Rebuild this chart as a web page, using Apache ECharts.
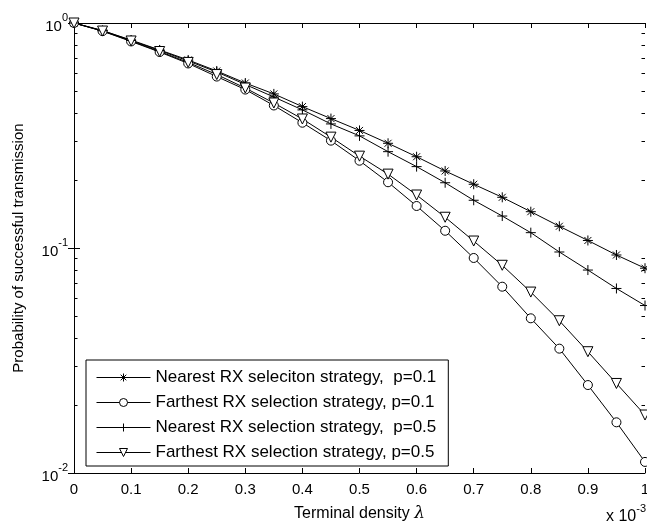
<!DOCTYPE html>
<html>
<head>
<meta charset="utf-8">
<script src="https://cdn.jsdelivr.net/npm/echarts@6/dist/echarts.min.js"></script>
<style>
html,body{margin:0;padding:0;background:#fff;overflow:hidden;}
#c{width:647px;height:530px;}
</style>
</head>
<body>
<div id="c"></div>
<script>
// Terminal density (x 10^-3)
const lambda = [0,0.05,0.1,0.15,0.2,0.25,0.3,0.35,0.4,0.45,0.5,0.55,0.6,0.65,0.7,0.75,0.8,0.85,0.9,0.95,1];
const nearestP01  = [1,0.926,0.840,0.759,0.685,0.612,0.541,0.484,0.425,0.376,0.333,0.292,0.2545,0.220,0.192,0.168,0.145,0.1249,0.108,0.0931,0.0813];
const farthestP01 = [1,0.920,0.828,0.743,0.661,0.578,0.506,0.430,0.3604,0.300,0.2443,0.196,0.1537,0.1193,0.0903,0.0673,0.0487,0.0357,0.0246,0.0168,0.0112];
const nearestP05  = [1,0.924,0.836,0.755,0.678,0.606,0.533,0.469,0.411,0.356,0.315,0.268,0.230,0.195,0.163,0.1387,0.117,0.0960,0.0798,0.0661,0.0555];
const farthestP05 = [1,0.921,0.832,0.747,0.668,0.590,0.514,0.441,0.3745,0.311,0.256,0.213,0.172,0.137,0.1074,0.0838,0.0637,0.0475,0.0346,0.0250,0.0181];
const seriesNames = [
  'Nearest RX seleciton strategy,  p=0.1',
  'Farthest RX selection strategy, p=0.1',
  'Nearest RX selection strategy,  p=0.5',
  'Farthest RX selection strategy, p=0.5'
];
const minorTickValues = [0.02,0.03,0.04,0.05,0.06,0.07,0.08,0.09,0.2,0.3,0.4,0.5,0.6,0.7,0.8,0.9];

const FONT = "'Liberation Sans', Arial, sans-serif";
const starPath = 'path://M0,5L10,5M5,0L5,10M1.5,1.5L8.5,8.5M1.5,8.5L8.5,1.5';
const plusPath = 'path://M0,5L10,5M5,0L5,10';
const triPath = 'path://M0,0L10,0L5,8.66Z';

function pairs(ys){ return lambda.map((x,i)=>[x, ys[i]]); }
function mkSeries(name, ys, symbol, size){
  return {
    name: name, type: 'line', data: pairs(ys),
    symbol: symbol, symbolSize: size, showSymbol: true,
    lineStyle: {color:'#000', width:1},
    itemStyle: {color:'#fff', borderColor:'#000', borderWidth:1},
    emphasis: {disabled:true}, animation:false, z: 3
  };
}

const chart = echarts.init(document.getElementById('c'), null, {renderer:'canvas'});
const yLabelFmt = function(v){ const e = Math.round(Math.log10(v)); return '{b|10}{s|' + e + '}'; };

chart.setOption({
  animation: false,
  backgroundColor: '#fff',
  grid: {left:74, right:2, top:23, bottom:57, containLabel:false, outerBoundsMode:'none'},
  xAxis: [{
    type:'value', min:0, max:1, interval:0.1, position:'bottom',
    axisLine:{show:true, lineStyle:{color:'#000', width:1}},
    axisTick:{show:true, inside:true, length:5, lineStyle:{color:'#000'}},
    splitLine:{show:false},
    axisLabel:{color:'#000', fontSize:15, fontFamily:FONT, margin:9, hideOverlap:false,
      formatter:function(v){ return String(+v.toFixed(1)); }},
    name:'{t|Terminal density }{l|λ}', nameLocation:'middle', nameGap:32,
    nameTextStyle:{rich:{t:{fontSize:16, fontFamily:FONT, color:'#000'}, l:{fontSize:17, fontFamily:"'DejaVu Serif', serif", fontStyle:'italic', color:'#000'}}}
  },{
    type:'value', min:0, max:1, interval:0.1, position:'top',
    axisLine:{show:true, lineStyle:{color:'#000', width:1}},
    axisTick:{show:true, inside:true, length:5, lineStyle:{color:'#000'}},
    axisLabel:{show:false}, splitLine:{show:false}
  }],
  yAxis: [{
    type:'log', logBase:10, min:0.01, max:1, position:'left',
    axisLine:{show:true, lineStyle:{color:'#000', width:1}},
    axisTick:{show:true, inside:true, length:6, lineStyle:{color:'#000'}},
    splitLine:{show:false}, minorTick:{show:false},
    axisLabel:{color:'#000', margin:6, formatter:yLabelFmt,
      rich:{
        b:{fontSize:15, fontFamily:FONT, color:'#000', lineHeight:22, verticalAlign:'bottom'},
        s:{fontSize:11, fontFamily:FONT, color:'#000', lineHeight:11, verticalAlign:'top'}
      }},
    name:'Probability of successful transmission', nameLocation:'middle', nameGap:48,
    nameTextStyle:{fontSize:15, fontFamily:FONT, color:'#000'}
  },{
    type:'log', logBase:10, min:0.01, max:1, position:'right',
    axisLine:{show:true, lineStyle:{color:'#000', width:1}},
    axisTick:{show:true, inside:true, length:6, lineStyle:{color:'#000'}},
    axisLabel:{show:false}, splitLine:{show:false}
  }],
  legend: {
    show:true, orient:'vertical', left:86, top:360,
    data: seriesNames,
    backgroundColor:'#fff', borderColor:'#000', borderWidth:1, borderRadius:0,
    padding:[9,12,5,10], itemGap:8, itemWidth:54, itemHeight:10,
    lineStyle:{width:1, color:'#000'},
    itemStyle:{borderWidth:1, borderColor:'#000', color:'#fff'},
    textStyle:{fontSize:17, fontFamily:FONT, color:'#000'},
    selectedMode:false
  },
  graphic: [{
    type:'text', left:606, top:503, z:10,
    style:{text:'{b|x 10}{s|-3}', rich:{
      b:{fontSize:16, fontFamily:FONT, fill:'#000', lineHeight:22, verticalAlign:'bottom'},
      s:{fontSize:11, fontFamily:FONT, fill:'#000', lineHeight:11, verticalAlign:'top'}
    }}
  }],
  series: [
    mkSeries(seriesNames[0], nearestP01, starPath, 10),
    mkSeries(seriesNames[1], farthestP01, 'circle', 9),
    mkSeries(seriesNames[2], nearestP05, plusPath, 10),
    mkSeries(seriesNames[3], farthestP05, triPath, 10),
    {
      type:'custom', name:'minorTicks', silent:true, animation:false, z:2,
      data: minorTickValues.map(v=>[0, v]),
      encode:{x:0, y:1},
      renderItem:function(params, api){
        const v = api.value(1);
        const p0 = api.coord([0, v]);
        const p1 = api.coord([1, v]);
        const y = Math.round(p0[1]) + 0.5;
        return {type:'group', children:[
          {type:'line', shape:{x1:p0[0], y1:y, x2:p0[0]+3.5, y2:y}, style:{stroke:'#000', lineWidth:1}},
          {type:'line', shape:{x1:p1[0]-3.5, y1:y, x2:p1[0], y2:y}, style:{stroke:'#000', lineWidth:1}}
        ]};
      }
    }
  ]
});
</script>
</body>
</html>
